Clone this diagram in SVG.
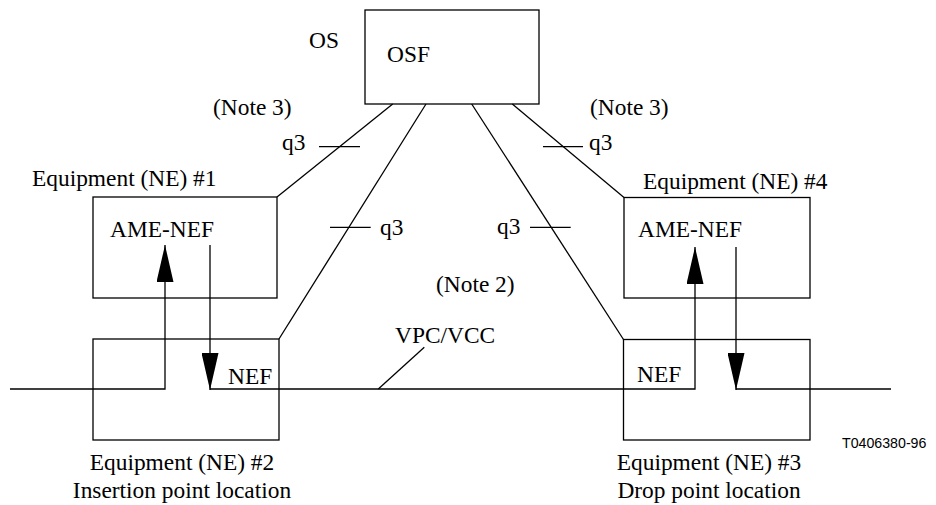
<svg xmlns="http://www.w3.org/2000/svg" width="936" height="505" viewBox="0 0 936 505">
<style>
.t{font-family:"Liberation Serif","Times New Roman",serif;font-size:23.4px;fill:#000}
.s{font-family:"Liberation Sans",Arial,sans-serif;font-size:14.2px;fill:#000}
.b{fill:none;stroke:#000;stroke-width:1.3}
.l{fill:none;stroke:#000;stroke-width:1.3}
</style>
<defs>
<marker id="ah" viewBox="0 0 37 17" refX="37" refY="8.5" markerWidth="37" markerHeight="17" markerUnits="userSpaceOnUse" orient="auto">
<path d="M0 0 L37 8.5 L0 17 z" fill="#000"/>
</marker>
</defs>
<rect width="936" height="505" fill="#fff"/>
<g id="os">
<rect class="b" x="365" y="10" width="174" height="94"/>
<text class="t" x="309" y="48">OS</text>
<text class="t" x="387" y="62">OSF</text>
</g>
<g id="ne1">
<rect class="b" x="93" y="197" width="184" height="101"/>
<text class="t" x="32" y="186">Equipment (NE) #1</text>
<text class="t" x="110" y="237">AME-NEF</text>
</g>
<g id="ne4">
<rect class="b" x="624" y="197.5" width="186" height="100.5"/>
<text class="t" x="643" y="189">Equipment (NE) #4</text>
<text class="t" x="638" y="237">AME-NEF</text>
</g>
<g id="ne2">
<rect class="b" x="93" y="339" width="186" height="101"/>
<text class="t" x="228" y="384">NEF</text>
<text class="t" x="182" y="470" text-anchor="middle">Equipment (NE) #2</text>
<text class="t" x="182" y="498" text-anchor="middle">Insertion point location</text>
</g>
<g id="ne3">
<rect class="b" x="623.5" y="339.5" width="186.5" height="100.5"/>
<text class="t" x="637" y="382">NEF</text>
<text class="t" x="709" y="470" text-anchor="middle">Equipment (NE) #3</text>
<text class="t" x="709" y="498" text-anchor="middle">Drop point location</text>
</g>
<g id="labels">
<text class="t" x="213" y="115">(Note 3)</text>
<text class="t" x="590" y="115">(Note 3)</text>
<text class="t" x="282" y="150">q3</text>
<text class="t" x="589" y="150">q3</text>
<text class="t" x="380" y="235">q3</text>
<text class="t" x="497" y="234">q3</text>
<text class="t" x="436" y="292">(Note 2)</text>
<text class="t" x="395" y="343">VPC/VCC</text>
<text class="s" x="842" y="448">T0406380-96</text>
</g>
<g id="connectors">
<line class="l" x1="392.7" y1="104" x2="277" y2="197"/>
<line class="l" x1="426" y1="104" x2="279" y2="339"/>
<line class="l" x1="471.7" y1="104" x2="623.5" y2="339.5"/>
<line class="l" x1="512.3" y1="104" x2="624" y2="197.5"/>
<line class="l" x1="319" y1="146.7" x2="360" y2="146.7"/>
<line class="l" x1="543" y1="146.7" x2="583" y2="146.7"/>
<line class="l" x1="330" y1="227.3" x2="370.7" y2="227.3"/>
<line class="l" x1="530" y1="227.3" x2="570.7" y2="227.3"/>
<line class="l" x1="378.3" y1="389" x2="424.3" y2="347.3"/>
<path class="l" d="M10 389 H165 V245" marker-end="url(#ah)"/>
<path class="l" d="M210 245 V390" marker-end="url(#ah)"/>
<path class="l" d="M210 389 H695 V247" marker-end="url(#ah)"/>
<path class="l" d="M736 247 V390" marker-end="url(#ah)"/>
<line class="l" x1="736" y1="389" x2="891" y2="389"/>
</g>
</svg>
